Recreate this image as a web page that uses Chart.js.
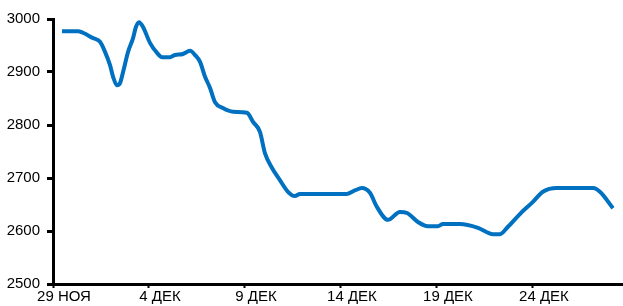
<!DOCTYPE html>
<html>
<head>
<meta charset="utf-8">
<script src="https://cdn.jsdelivr.net/npm/chart.js@4"></script>
<style>
html,body{margin:0;padding:0;background:#fff;}
#wrap{width:623px;height:306px;position:relative;}
</style>
</head>
<body>
<div id="wrap"><canvas id="c"></canvas></div>
<script>
// x positions in days since 29 Nov
const days = [0.47,1.30,1.56,2.08,2.45,2.71,2.97,3.13,3.33,3.49,3.65,3.91,4.17,4.32,4.48,4.69,5.05,5.42,5.68,6.09,6.35,6.77,7.14,7.40,7.66,7.92,8.18,8.44,8.85,9.38,10.10,10.42,10.78,11.04,11.41,11.82,12.24,12.60,12.86,15.31,15.75,16.09,16.51,16.88,17.45,18.07,18.44,19.01,19.53,20.05,20.31,21.20,22.14,22.92,23.28,23.70,24.32,25.00,25.52,26.25,28.13,28.49,29.17];
const values = [2977,2977,2974,2964,2957,2938,2913,2891,2875,2879,2900,2938,2964,2985,2994,2985,2955,2936,2928,2928,2932,2934,2940,2932,2919,2891,2870,2843,2832,2825,2823,2806,2787,2747,2719,2696,2674,2666,2670,2670,2677,2681,2672,2645,2621,2636,2634,2617,2609,2609,2613,2613,2606,2594,2594,2608,2632,2655,2674,2681,2681,2674,2643];
const tickDays = [0,5,10,15,20,25];
const tickLabels = ['29 НОЯ','4 ДЕК','9 ДЕК','14 ДЕК','19 ДЕК','24 ДЕК'];
const yTicks = [2500,2600,2700,2800,2900,3000];

const FONT = {family:"'Liberation Sans Narrow','Arial Narrow','Liberation Sans',Arial,sans-serif", size:15};

new Chart(document.getElementById('c'), {
  type:'line',
  data:{datasets:[{
    data: days.map((d,i)=>({x:d,y:values[i]})),
    borderColor:'#0070C0',
    borderWidth:4,
    pointRadius:0,
    cubicInterpolationMode:'monotone',
    fill:false
  }]},
  options:{
    responsive:true,
    maintainAspectRatio:false,
    animation:false,
    devicePixelRatio:1,
    layout:{padding:{top:19,right:1,left:0,bottom:0}},
    plugins:{legend:{display:false},tooltip:{enabled:false}},
    scales:{
      x:{
        type:'linear',
        min:0,
        max:29.64,
        afterBuildTicks:s=>{s.ticks = tickDays.map(v=>({value:v}));},
        afterFit:s=>{s.height=22;},
        grid:{drawOnChartArea:false,drawTicks:true,tickLength:4,tickWidth:2,tickColor:'#000'},
        border:{color:'#000',width:3},
        ticks:{
          color:'#000',
          font:FONT,
          padding:0,
          labelOffset:11,
          maxRotation:0,
          autoSkip:false,
          callback:v=>{const i=tickDays.indexOf(v);return i>=0?tickLabels[i]:'';}
        }
      },
      y:{
        type:'linear',
        min:2500,
        max:3000,
        afterBuildTicks:s=>{s.ticks = yTicks.map(v=>({value:v}));},
        afterFit:s=>{s.width=53;},
        grid:{drawOnChartArea:false,drawTicks:true,tickLength:6,tickWidth:3,tickColor:'#000'},
        border:{color:'#000',width:3},
        ticks:{color:'#000',font:FONT,padding:7,callback:v=>String(v)}
      }
    }
  }
});
</script>
</body>
</html>
